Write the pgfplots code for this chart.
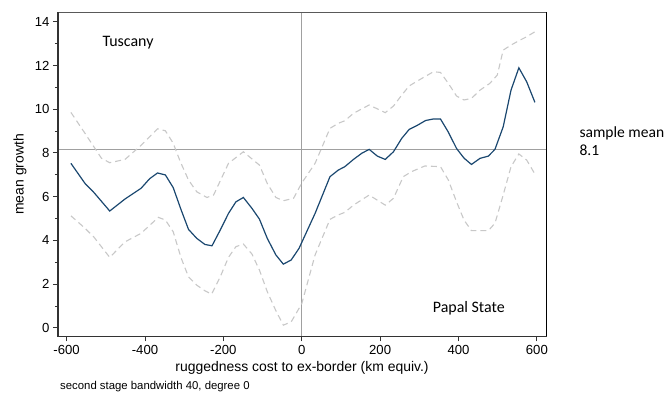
\documentclass[border=0pt]{standalone}
\usepackage{fontspec}
\setmainfont{Liberation Sans}
\newfontfamily\calibri{Carlito}
\usepackage{pgfplots}
\pgfplotsset{compat=1.18}
\definecolor{navy}{HTML}{1A476F}
\definecolor{band}{HTML}{C8C8C8}
\definecolor{refl}{HTML}{A0A0A0}
\definecolor{axl}{HTML}{333333}
\begin{document}
\begin{tikzpicture}
\useasboundingbox (-58bp,-57.7bp) rectangle (606bp,336.3bp);
\begin{axis}[
  scale only axis,
  width=488.3bp, height=323.8bp,
  xmin=-622, xmax=624, ymin=-0.39, ymax=14.42,
  xtick={-600,-400,...,600},
  ytick={0,2,...,14},
  minor ytick={1,3,...,13},
  tick align=outside,
  major tick length=5bp, minor tick length=3bp,
  tick style={axl, line width=0.8bp},
  xtick pos=bottom, ytick pos=left,
  axis line style={draw=none},
  /pgf/number format/assume math mode=true,
  ticklabel style={font=\fontsize{13.2}{15}\selectfont},
  xticklabel style={/pgf/number format/set thousands separator={}},
  label style={font=\fontsize{14}{16}\selectfont},
  xlabel={ruggedness cost to ex-border (km equiv.)},
  ylabel={mean growth},
  xlabel style={at={(axis description cs:0.4997,-0.097)}, anchor=center},
  ylabel style={at={(axis description cs:-0.0778,0.5)}, anchor=center},
  clip=false,
]
% reference lines
\addplot[refl, line width=0.9bp, forget plot] coordinates {(-622,8.14) (624,8.14)};
\addplot[refl, line width=0.9bp, forget plot] coordinates {(0,-0.39) (0,14.42)};
% upper band
\addplot[band, line width=1.1bp, dash pattern=on 6bp off 4bp] coordinates {
(-589,9.85) (-553,8.89) (-511,7.75) (-490,7.55) (-451,7.70) (-409,8.36) (-368,9.10) (-348,9.01) (-328,8.44) (-310,7.60) (-289,6.76) (-268,6.22) (-242,5.96) (-225,6.07) (-187,7.52) (-149,8.05) (-108,7.44) (-88,6.60) (-66,5.96) (-47,5.81) (-21,5.92) (0,6.62) (34,7.52) (72,9.12) (93,9.35) (110,9.47) (132,9.81) (172,10.19) (213,9.84) (234,10.14) (255,10.64) (274,11.06) (302,11.36) (336,11.71) (354,11.68) (374,11.18) (395,10.60) (414,10.42) (433,10.49) (455,10.87) (480,11.18) (499,11.56) (514,12.70) (534,12.93) (554,13.13) (574,13.31) (595,13.54)
};
% lower band
\addplot[band, line width=1.1bp, dash pattern=on 6bp off 4bp] coordinates {
(-589,5.12) (-553,4.55) (-530,4.14) (-490,3.22) (-451,3.93) (-410,4.32) (-366,5.05) (-348,4.93) (-328,4.39) (-308,3.20) (-289,2.33) (-268,1.95) (-247,1.69) (-230,1.54) (-208,2.33) (-187,3.22) (-168,3.71) (-149,3.83) (-127,3.37) (-108,2.64) (-88,1.65) (-66,0.78) (-47,0.12) (-27,0.27) (0,1.10) (34,3.33) (72,4.96) (93,5.16) (110,5.28) (132,5.61) (172,6.07) (213,5.61) (234,5.92) (259,6.91) (280,7.14) (314,7.40) (354,7.37) (374,6.76) (395,5.76) (414,4.93) (433,4.44) (476,4.44) (493,4.78) (514,6.07) (534,7.37) (554,7.95) (574,7.67) (595,7.03)
};
% mean
\addplot[navy, line width=1.2bp] coordinates {
(-589,7.52) (-553,6.60) (-530,6.18) (-490,5.34) (-451,5.89) (-410,6.38) (-388,6.82) (-368,7.08) (-348,6.99) (-328,6.41) (-308,5.40) (-289,4.50) (-268,4.09) (-247,3.81) (-229,3.75) (-208,4.47) (-187,5.23) (-168,5.76) (-149,5.96) (-127,5.46) (-108,4.97) (-88,4.09) (-66,3.33) (-47,2.91) (-27,3.10) (-7,3.63) (34,5.23) (72,6.91) (93,7.21) (110,7.37) (132,7.70) (153,7.98) (172,8.16) (193,7.85) (213,7.70) (234,8.05) (255,8.66) (274,9.07) (295,9.26) (316,9.48) (336,9.55) (354,9.55) (374,8.95) (395,8.20) (414,7.76) (433,7.47) (455,7.75) (476,7.85) (493,8.16) (514,9.19) (534,10.87) (554,11.89) (574,11.25) (595,10.31)
};
% axis frame
\draw[color=black!65, line width=0.8bp] (rel axis cs:0,1) -- (rel axis cs:1,1);
\draw[color=black, line width=1bp] (rel axis cs:1,0) -- (rel axis cs:1,1);
\draw[color=axl, line width=1.4bp, line cap=rect] (rel axis cs:0,1) -- (rel axis cs:0,0) -- (rel axis cs:1,0);
\node[anchor=base, font=\calibri\fontsize{16}{18}\selectfont] at (axis description cs:0.1434,0.8944) {Tuscany};
\node[anchor=base, font=\calibri\fontsize{16}{18}\selectfont] at (axis description cs:0.8413,0.075) {Papal State};
\node[anchor=base west, align=left, inner sep=0pt, font=\calibri\fontsize{15.6}{17.3}\selectfont] at (axis description cs:1.0676,0.5599) {sample mean\\8.1};
\node[anchor=base west, inner sep=0pt, font=\fontsize{11.4}{13}\selectfont] at (axis description cs:0.0041,-0.1658) {second stage bandwidth 40, degree 0};
\end{axis}
\end{tikzpicture}
\end{document}
